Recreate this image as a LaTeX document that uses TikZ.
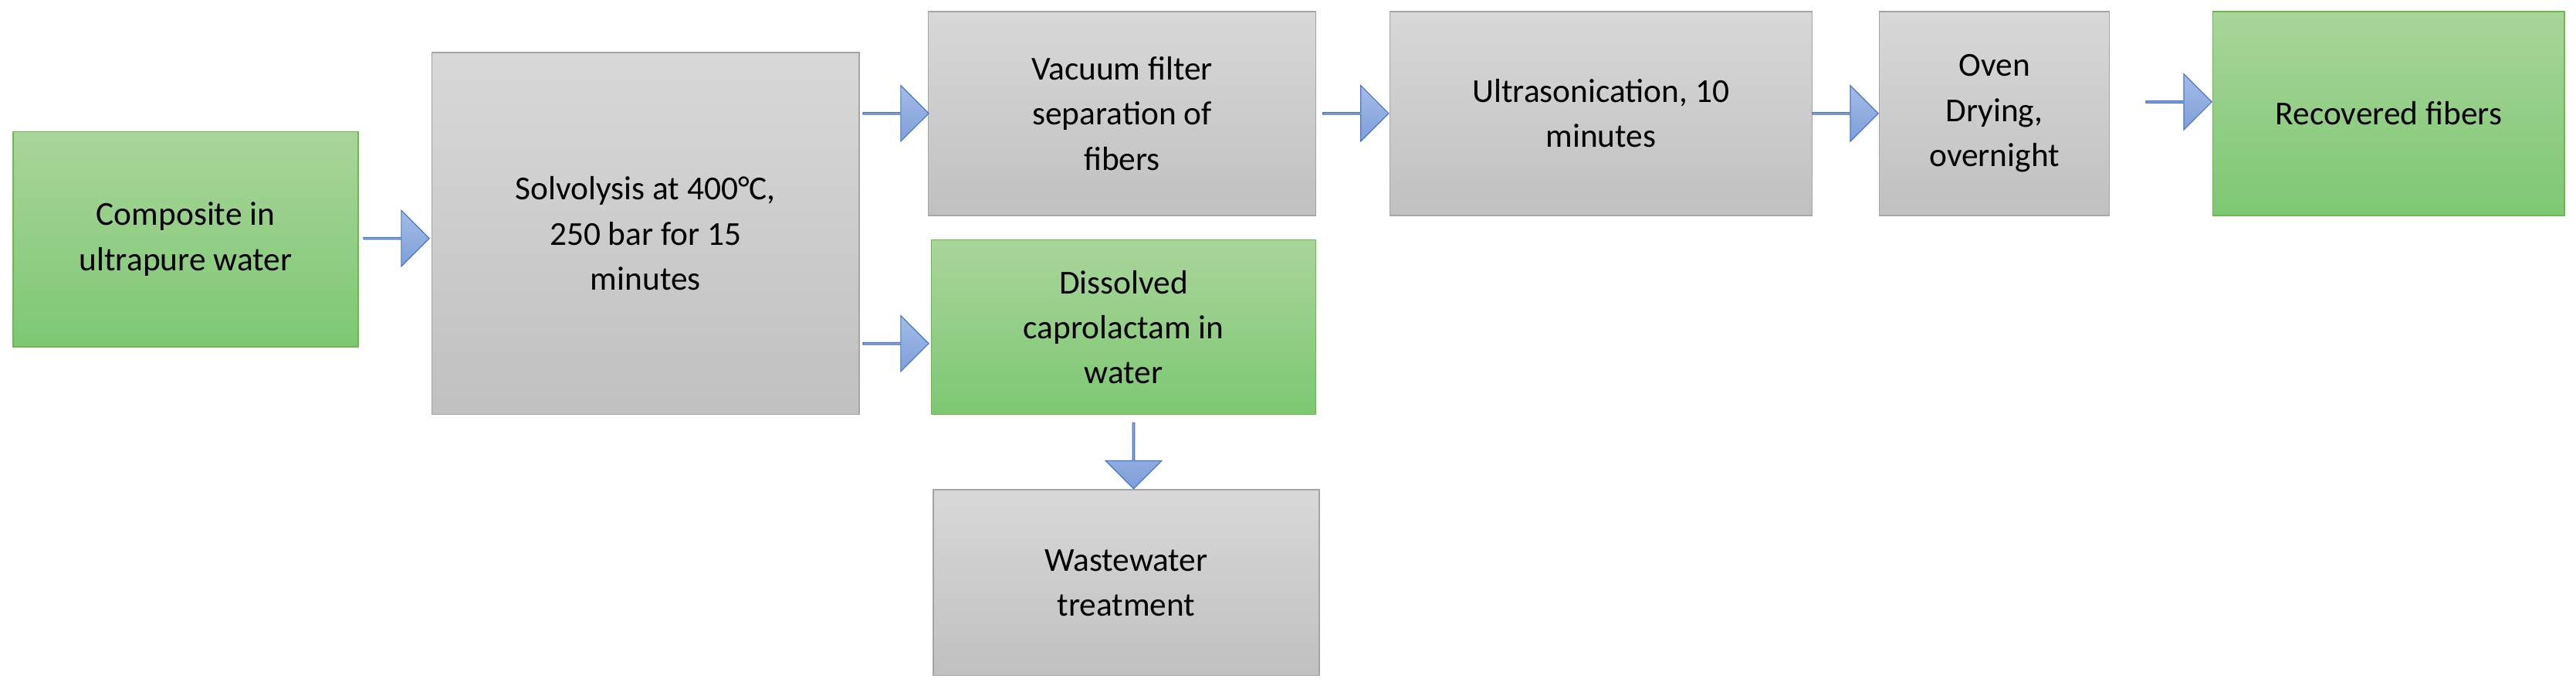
\documentclass[tikz,border=0pt]{standalone}
\usepackage{fontspec}
\setmainfont{Carlito}
\usetikzlibrary{shapes.arrows}
\definecolor{gt}{HTML}{A9D59A}\definecolor{gb}{HTML}{7DC873}\definecolor{gl}{HTML}{6DB84F}
\definecolor{yt}{HTML}{D8D8D8}\definecolor{yb}{HTML}{C0C0C0}\definecolor{yl}{HTML}{A5A5A5}
\definecolor{at}{HTML}{A4BCE6}\definecolor{ab}{HTML}{7E9FDA}\definecolor{al}{HTML}{4A76C6}
\begin{document}
\begin{tikzpicture}[x=0.05cm,y=-0.05cm,
 box/.style={draw,line width=1pt,align=center,font=\fontsize{29}{39}\selectfont,inner sep=0pt},
 green/.style={box,draw=gl,top color=gt,bottom color=gb},
 grey/.style={box,draw=yl,top color=yt,bottom color=yb},
 arr/.style={single arrow,draw=al,line width=0.8pt,top color=at,bottom color=ab,minimum height=40*0.05cm,minimum width=34*0.05cm,single arrow head extend=8*0.05cm,inner sep=0pt,shading angle=0},
 darr/.style={arr,shape border rotate=270,shading angle=0}]
\useasboundingbox (0,0) rectangle (1568,419);
\newcommand\bx[7]{\node[#1,minimum width=(#4-#2)*0.05cm,minimum height=(#5-#3)*0.05cm] (#6) at ({(#2+#4)/2},{(#3+#5)/2}) {#7};}
\bx{green}{8}{80}{218}{211}{b1}{Composite in\\ultrapure water}
\bx{grey}{263}{32}{523}{252}{b2}{Solvolysis at 400°C,\\250 bar for 15\\minutes}
\bx{grey}{565}{7}{801}{131}{b3}{Vacuum filter\\separation of\\fibers}
\bx{grey}{846}{7}{1103}{131}{b4}{Ultrasonication, 10\\minutes}
\bx{grey}{1144}{7}{1284}{131}{b5}{Oven\\Drying,\\overnight}
\bx{green}{1347}{7}{1561}{131}{b6}{Recovered fibers}
\bx{green}{567}{146}{801}{252}{b7}{Dissolved\\caprolactam in\\water}
\bx{grey}{568}{298}{803}{411}{b8}{Wastewater\\treatment}
\node[arr] (a1) at (241,145) {};
\node[arr] (a2) at (545,69) {};
\node[arr] (a3) at (545,209) {};
\node[arr] (a4) at (825,69) {};
\node[arr] (a5) at (1123,69) {};
\node[arr] (a6) at (1326,62) {};
\node[arr,rotate=-90] (a7) at (690,277) {};
\end{tikzpicture}
\end{document}
